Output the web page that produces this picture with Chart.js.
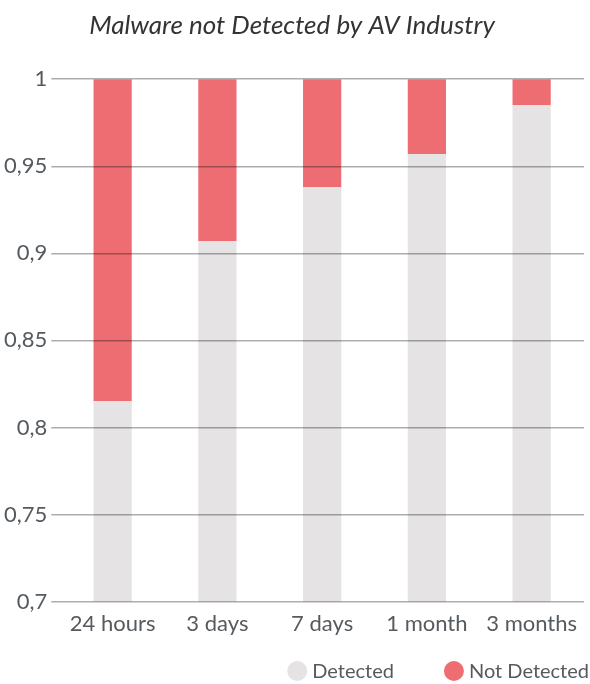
<!DOCTYPE html>
<html>
    <head>
        <title>Malware not Detected by AV Industry</title>
        <script src="https://cdn.jsdelivr.net/npm/chart.js@4"></script>
        <style>
            body { margin: 0; background: #fff; }
            #wrap { width: 590px; height: 684px; }
        </style>
    </head>
    <body>
        <div id="wrap"><canvas id="chart"></canvas></div>

        <script>
            // periods after first sighting
            const periods = ['24 hours', '3 days', '7 days', '1 month', '3 months']
            const detected = [0.815, 0.907, 0.938, 0.957, 0.985]
            const notDetected = [0.185, 0.093, 0.062, 0.043, 0.015]

            const font = 'Lato, "Open Sans", sans-serif'
            const textColor = '#555a5f'
            const comma = v => String(Math.round(v * 100) / 100).replace('.', ',')

            // legend drawn right-aligned along the bottom, wider gap between items
            const bottomLegend = {
                id: 'bottomLegend',
                afterDraw(chart) {
                    const ctx = chart.ctx
                    const y = 671, r = 10, gap = 5, itemGap = 50
                    ctx.save()
                    ctx.font = '20px ' + font
                    ctx.textBaseline = 'middle'
                    ctx.textAlign = 'left'
                    let x = chart.width - 1
                    const sets = chart.data.datasets.slice().reverse()
                    sets.forEach(ds => {
                        const w = ctx.measureText(ds.label).width
                        x -= w
                        ctx.fillStyle = textColor
                        ctx.fillText(ds.label, x, y + 1)
                        ctx.beginPath()
                        ctx.arc(x - gap - r, y, r, 0, Math.PI * 2)
                        ctx.fillStyle = ds.backgroundColor
                        ctx.fill()
                        x -= gap + 2 * r + itemGap
                    })
                    ctx.restore()
                },
            }

            new Chart(document.getElementById('chart'), {
                type: 'bar',
                data: {
                    labels: periods,
                    datasets: [
                        {
                            label: 'Detected',
                            data: detected,
                            backgroundColor: '#e5e3e4',
                            barPercentage: 0.365,
                            categoryPercentage: 1,
                        },
                        {
                            label: 'Not Detected',
                            data: notDetected,
                            backgroundColor: '#ee6d73',
                            barPercentage: 0.365,
                            categoryPercentage: 1,
                        },
                    ],
                },
                plugins: [bottomLegend],
                options: {
                    responsive: true,
                    maintainAspectRatio: false,
                    animation: false,
                    layout: { padding: { left: 0, right: 6, top: 10, bottom: 46 } },
                    plugins: {
                        title: {
                            display: true,
                            text: 'Malware not Detected by AV Industry',
                            color: '#333',
                            font: { family: font, size: 26, style: 'italic', weight: 'normal' },
                            padding: { top: 0, bottom: 38 },
                        },
                        legend: { display: false },
                        tooltip: { enabled: false },
                    },
                    scales: {
                        x: {
                            stacked: true,
                            grid: { display: false },
                            border: { display: false },
                            ticks: { color: textColor, font: { family: font, size: 22 }, padding: 1 },
                        },
                        y: {
                            stacked: true,
                            min: 0.7,
                            max: 1,
                            border: { display: false },
                            grid: { color: 'rgba(0,0,0,0.32)', lineWidth: 1.5, z: 1, tickLength: 9 },
                            ticks: {
                                stepSize: 0.05,
                                color: textColor,
                                font: { family: font, size: 22 },
                                padding: 4,
                                callback: comma,
                            },
                        },
                    },
                },
            })
        </script>
    </body>
</html>
